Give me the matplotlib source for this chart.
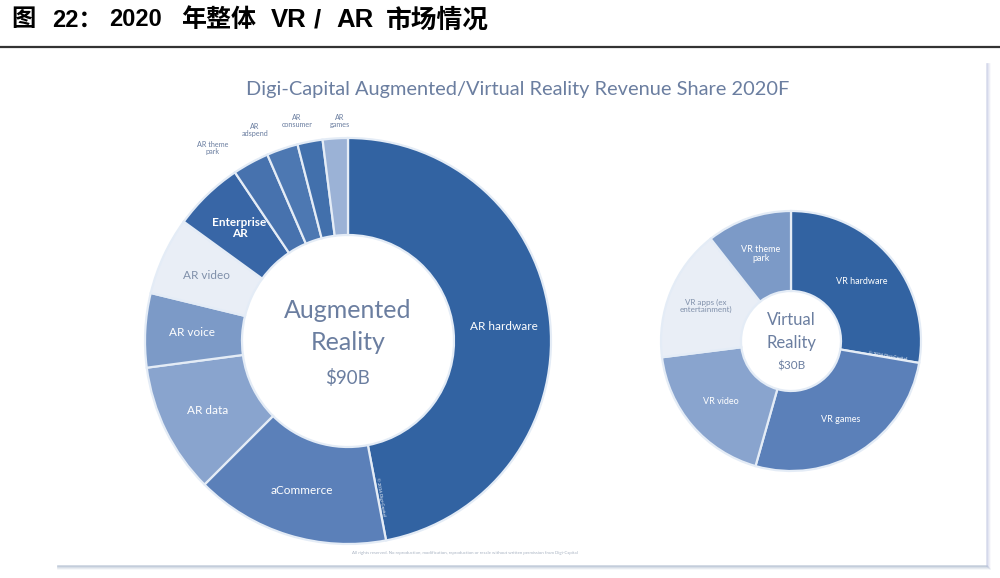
import numpy as np
import matplotlib.pyplot as plt

# ---- data (shares, %) ----
ar_labels = ["AR hardware", "aCommerce", "AR data", "AR voice", "AR video",
             "Enterprise\nAR", "AR theme\npark", "AR\nadspend", "AR\nconsumer", "AR\ngames"]
ar_share = [47.0, 15.5, 10.4, 5.9, 6.2, 5.6, 2.9, 2.5, 2.0, 2.0]

vr_labels = ["VR hardware", "VR games", "VR video", "VR apps (ex\nentertainment)", "VR theme\npark"]
vr_share = [27.7, 26.7, 18.6, 16.4, 10.6]

header_parts = ["图", "22：", "2020", "年整体", "VR", "/", "AR", "市场情况"]
title = "Digi-Capital Augmented/Virtual Reality Revenue Share 2020F"

# ---- style ----
ar_colors = ["#3263a2", "#5b80b9", "#89a4ce", "#7c9ac7", "#e9eef6",
             "#3866a6", "#4772ae", "#4d78b2", "#4270ac", "#9bb2d6"]
vr_colors = ["#3263a2", "#5b80b9", "#89a4ce", "#e9eef6", "#7c9ac7"]
text_blue = "#6b7ea0"
edge = "#e4ecf6"
W, H = 1000, 578
ar_c, ar_r, ar_hole = (348, H - 341), 203, 106
vr_c, vr_r, vr_hole = (791, H - 341), 130, 50

# outer labels for the thin AR slices (image coords)
ar_outer_pos = {6: (213, 148), 7: (255, 130), 8: (297, 121), 9: (340, 121)}
header_x = [11, 52, 109, 181, 271, 314, 336, 386]
header_size = [17.5, 17, 17, 18, 18.5, 18.5, 18.5, 18.5]

plt.rcParams["font.family"] = ["Lato", "DejaVu Sans"]

fig = plt.figure(figsize=(10, 5.78), dpi=100)
ax = fig.add_axes([0, 0, 1, 1])


def donut(values, colors, center, radius, hole):
    wedges, _ = ax.pie(values, colors=colors, center=center, radius=radius,
                       startangle=90, counterclock=False,
                       wedgeprops=dict(width=radius - hole, edgecolor=edge, linewidth=1.6))
    return wedges


def label_xy(w, center, r):
    ang = np.deg2rad((w.theta1 + w.theta2) / 2)
    return center[0] + r * np.cos(ang), center[1] + r * np.sin(ang)


# ---- AR donut ----
ar_wedges = donut(ar_share, ar_colors, ar_c, ar_r, ar_hole)
for i, (w, lab) in enumerate(zip(ar_wedges, ar_labels)):
    if i in ar_outer_pos:
        x, y = ar_outer_pos[i]
        ax.text(x, H - y, lab, ha="center", va="center", fontsize=5.2,
                color=text_blue, linespacing=1.0)
        continue
    x, y = label_xy(w, ar_c, ar_r * 0.77)
    col = "#8090aa" if i == 4 else "white"
    ax.text(x, y, lab, ha="center", va="center", fontsize=8.5, color=col,
            fontweight="bold" if i == 5 else "normal", linespacing=1.0)

ax.text(ar_c[0], H - 310, "Augmented", ha="center", va="center", fontsize=18, color=text_blue)
ax.text(ar_c[0], H - 343, "Reality", ha="center", va="center", fontsize=18, color=text_blue)
ax.text(ar_c[0], H - 378, r"\$90B", ha="center", va="center", fontsize=13.5, color=text_blue)
ax.text(381, H - 497, "© 2016 Digi-Capital", rotation=-80, ha="center", va="center",
        fontsize=3.2, color="white")

# ---- VR donut ----
vr_wedges = donut(vr_share, vr_colors, vr_c, vr_r, vr_hole)
for i, (w, lab) in enumerate(zip(vr_wedges, vr_labels)):
    x, y = label_xy(w, vr_c, vr_r * 0.71)
    col = "#8090aa" if i == 3 else "white"
    ax.text(x, y, lab, ha="center", va="center", fontsize=6.5 if i != 3 else 5.8,
            color=col, linespacing=1.0)

ax.text(vr_c[0], H - 320, "Virtual", ha="center", va="center", fontsize=12, color=text_blue)
ax.text(vr_c[0], H - 343, "Reality", ha="center", va="center", fontsize=12, color=text_blue)
ax.text(vr_c[0], H - 366, r"\$30B", ha="center", va="center", fontsize=8.5, color=text_blue)
ax.text(887, H - 356, "© 2016 Digi-Capital", rotation=-9, ha="center", va="center",
        fontsize=3.2, color="white")

# ---- titles, rule, panel frame ----
ax.text(518, H - 90, title, ha="center", va="center", fontsize=14.4, color=text_blue)
for part, x, fs in zip(header_parts, header_x, header_size):
    ax.text(x, H - 20, part, ha="left", va="center", fontsize=fs,
            fontweight="bold", color="black",
            family=["Liberation Sans", "Noto Sans CJK SC"])
ax.plot([0, W], [H - 47, H - 47], color="#333333", lw=1.6, solid_capstyle="butt")

for k, a in enumerate([0.55, 0.35, 0.2, 0.1]):
    ax.plot([58, 987 + k], [H - 566 - k, H - 566 - k], color="#9fb0c6", lw=1.2, alpha=a)
    ax.plot([987 + k, 987 + k], [H - 64, H - 566 - k], color="#bcc3e0", lw=1.2, alpha=a)
ax.text(465, H - 553,
        "All rights reserved. No reproduction, modification, reproduction or resale "
        "without written permission from Digi-Capital",
        ha="center", va="center", fontsize=3.2, color="#a9b3c2")

ax.set_xlim(0, W)
ax.set_ylim(0, H)
ax.set_aspect("equal")
ax.axis("off")

fig.savefig("out.png", dpi=100)
